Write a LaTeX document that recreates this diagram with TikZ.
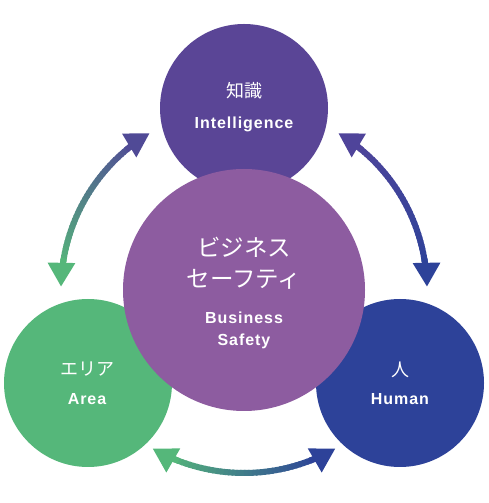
\documentclass[tikz,border=0pt]{standalone}
\usepackage{fontspec}
\usetikzlibrary{arrows.meta,calc}
\newfontfamily\jpfont{Noto Sans CJK JP}
\newfontfamily\enfont{Liberation Sans}[LetterSpace=6]
\definecolor{topc}{HTML}{5A4596}
\definecolor{midc}{HTML}{8D5CA0}
\definecolor{leftc}{HTML}{55B77A}
\definecolor{rightc}{HTML}{2D4299}
\definecolor{arcpl}{HTML}{504A96}
\definecolor{arcpr}{HTML}{4F449A}
\tikzset{
  bubble/.style={circle, inner sep=0pt, draw=none},
  jptext/.style={text=white, font=\jpfont\fontsize{18}{20}\selectfont, inner sep=0pt},
  jpbig/.style={text=white, font=\jpfont\fontsize{23.5}{26}\selectfont, inner sep=0pt},
  entext/.style={text=white, font=\enfont\bfseries\fontsize{16}{18}\selectfont, inner sep=0pt, anchor=base},
  arcline/.style={line width=6pt},
  arctip/.style={line width=6pt, -{Triangle[width=26pt,length=24pt]}}
}
\newcommand\gradarc[5]{%
  \pgfmathsetmacro\sA{#2+9*sign(#3-#2)}%
  \pgfmathsetmacro\sB{#3-9*sign(#3-#2)}%
  \pgfmathsetmacro\bA{#2+5*sign(#3-#2)}%
  \pgfmathsetmacro\bB{#3-5*sign(#3-#2)}%
  \foreach \k in {0,...,39}{%
    \pgfmathsetmacro\aa{\bA+(\bB-\bA)*\k/40}%
    \pgfmathsetmacro\bb{\bA+(\bB-\bA)*min(\k+1.4,40)/40}%
    \pgfmathtruncatemacro\pp{100-\k*100/39}%
    \draw[arcline, color=#4!\pp!#5] ($(#1)+(\aa:183)$) arc[start angle=\aa, end angle=\bb, radius=183];
  }%
  \draw[arctip, color=#4] ($(#1)+(\sA:183)$) arc[start angle=\sA, end angle=#2, radius=183];
  \draw[arctip, color=#5] ($(#1)+(\sB:183)$) arc[start angle=\sB, end angle=#3, radius=183];
}
\begin{document}
\begin{tikzpicture}[x=1pt,y=1pt]
\useasboundingbox (0,0) rectangle (488,503);
% circles
\node[bubble, fill=topc, minimum size=168pt] (know) at (244,395) {};
\node[bubble, fill=leftc, minimum size=168pt] (area) at (88,120) {};
\node[bubble, fill=rightc, minimum size=168pt] (human) at (400,120) {};
\node[bubble, fill=midc, minimum size=242pt] (safety) at (244,213) {};
% connectors (arcs concentric with the centre circle)
\coordinate (hub) at (safety.center);
\gradarc{hub}{121}{179}{arcpl}{leftc}
\gradarc{hub}{59}{1}{arcpr}{rightc}
\gradarc{hub}{240}{300}{leftc}{rightc}
% labels
\node[jptext] (knowjp) at (244,412) {知識};
\node[entext] (knowen) at (244,374) {Intelligence};
\node[jpbig] (safjp1) at (244,255.5) {ビジネス};
\node[jpbig] (safjp2) at (244,224) {セーフティ};
\node[entext] (safen1) at (244,179) {Business};
\node[entext] (safen2) at (244,157) {Safety};
\node[jptext] (areajp) at (87,134) {エリア};
\node[entext] (areaen) at (87,98) {Area};
\node[jptext] (humanjp) at (400,133) {人};
\node[entext] (humanen) at (400,98) {Human};
\end{tikzpicture}
\end{document}
